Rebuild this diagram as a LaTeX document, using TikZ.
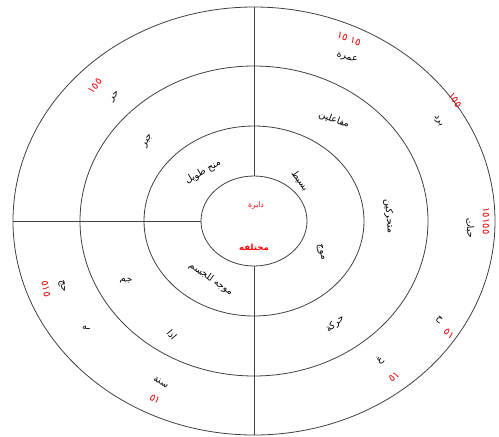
\documentclass[tikz,border=0pt]{standalone}
\usepackage{fontspec}
\newfontfamily\arabicfont[Script=Arabic]{DejaVu Sans}
\TeXXeTstate=1
\newcommand{\ar}[1]{\beginR #1\endR}

\begin{document}
\begin{tikzpicture}[x=1pt, y=-1pt,
  ring/.style={draw=black!75, line width=0.8pt},
  sep/.style={draw=black!75, line width=0.8pt},
  lbl/.style={font=\fontsize{9.5}{11}\arabicfont, inner sep=0.5pt},
  num/.style={font=\fontsize{10}{11}\arabicfont, text=red!90!black, inner sep=0.5pt},
  mid/.style={font=\fontsize{7.5}{9}\arabicfont, text=red, inner sep=0.5pt}]
\useasboundingbox (0,0) rectangle (499,437);
% rings
\coordinate (c) at (254,221);
\draw[ring] (c) ellipse [x radius=241pt, y radius=214pt];
\draw[ring] (c) ellipse [x radius=174pt, y radius=155pt];
\draw[ring] (c) ellipse [x radius=110pt, y radius=95pt];
\draw[ring] (c) ellipse [x radius=53pt, y radius=45pt];
% dividers
\coordinate (outerN) at (254,7);
\coordinate (hubN) at (254,176);
\coordinate (hubS) at (254,266);
\coordinate (outerS) at (254,435);
\coordinate (outerW) at (13,221);
\coordinate (hubW) at (201,221);
\draw[sep] (outerN) -- (hubN);
\draw[sep] (hubS) -- (outerS);
\draw[sep] (outerW) -- (hubW);
% centre
\node[mid] (hubtop) at (256,206) {\ar{دايرة}};
\node[mid, font=\fontsize{8.5}{10}\arabicfont\bfseries] (hubbot) at (254,247) {\ar{مختلفه}};
% second ring
\node[lbl, rotate=30] (long) at (203,172) {\ar{منح طويل}};
\node[lbl, rotate=-55] (simple) at (300,181) {\ar{بسيط}};
\node[lbl, rotate=-75] (wave) at (321,252) {\ar{موج}};
\node[lbl, rotate=-35] (body) at (211,279) {\ar{موجه للجسم}};
% third ring
\node[lbl, rotate=-20] (actors) at (334,120) {\ar{مفاعلين}};
\node[lbl, rotate=60] (jabr) at (148,141) {\ar{جبر}};
\node[lbl, rotate=-85] (moving) at (389,216) {\ar{متحركين}};
\node[lbl, rotate=40] (motion) at (335,324) {\ar{حركة}};
\node[lbl, rotate=-15] (jam) at (126,281) {\ar{جم}};
\node[lbl, rotate=-50] (idh) at (172,335) {\ar{اذا}};
% outer ring
\node[lbl, rotate=-15] (umra) at (347,58) {\ar{عمرة}};
\node[num, rotate=-20] (umranum) at (349,39) {\ar{١٥ ١٥}};
\node[lbl, rotate=-60] (cold) at (438,121) {\ar{برد}};
\node[num, rotate=-55] (coldnum) at (455,100) {١٥٥};
\node[lbl, rotate=-85] (grains) at (470,228) {\ar{حبات}};
\node[num, rotate=-90] (grainsnum) at (486,221) {١٥١٥٥};
\node[lbl, rotate=-40] (ha) at (439,320) {\ar{ح}};
\node[num, rotate=-40] (hanum) at (449,334) {٥١};
\node[lbl, rotate=40] (gh) at (380,360) {\ar{غ}};
\node[num, rotate=40] (ghnum) at (394,377) {٥١};
\node[lbl, rotate=-30] (year) at (161,382) {\ar{سنة}};
\node[num, rotate=-30] (yearnum) at (155,399) {٥١};
\node[lbl] (dash) at (86,328) {\ar{ـه}};
\node[lbl, rotate=-80] (hajj) at (62,286) {\ar{حج}};
\node[num, rotate=-80] (hajjnum) at (46,289) {٥١٥};
\node[lbl, rotate=50] (heat) at (115,97) {\ar{حر}};
\node[num, rotate=50] (heatnum) at (95,86) {١٥٥};
\end{tikzpicture}
\end{document}
